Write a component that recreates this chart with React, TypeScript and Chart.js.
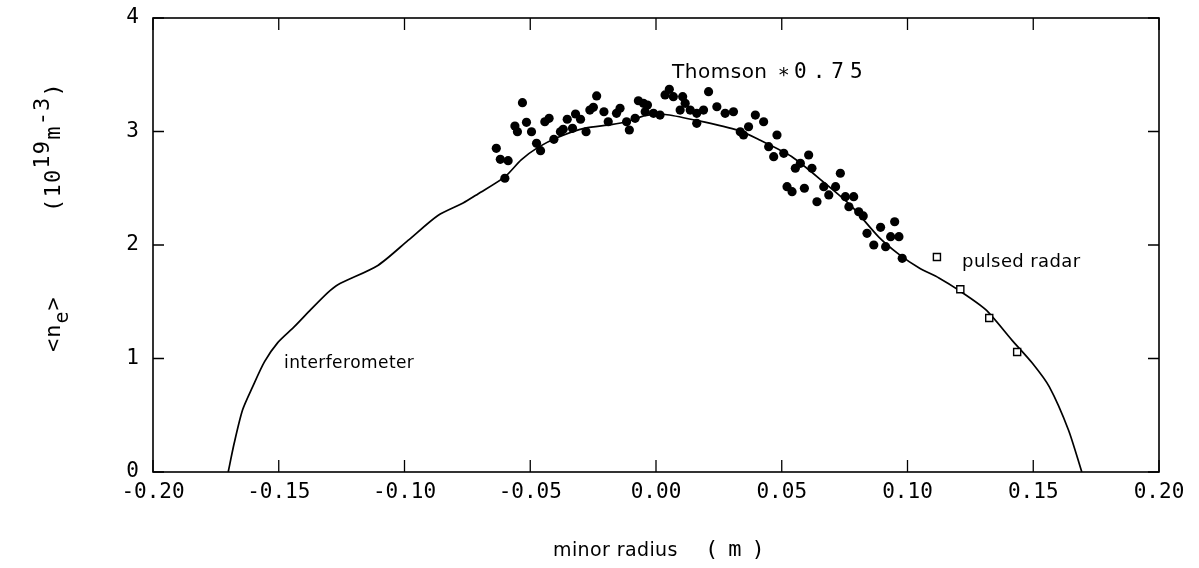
import React, { useEffect, useRef } from "react";
import { Chart, registerables } from "chart.js";

Chart.register(...registerables);

// Thomson scattering points (x: minor radius in m, y: <n_e> in 1e19 m^-3)
const thomsonX = [
  -0.0531, -0.0561, -0.0551, -0.0515, -0.0495, -0.0442, -0.0425, -0.0635, -0.0619, -0.0588,
  -0.0601, -0.0475, -0.0459, -0.0406, -0.038, -0.0369, -0.0353, -0.0332, -0.032, -0.03,
  -0.0278, -0.0263, -0.0249, -0.0236, -0.0207, -0.019, -0.0157, -0.0143, -0.0117, -0.0106,
  -0.0083, -0.007, -0.005, -0.0034, -0.0043, -0.001, 0.0016, 0.0053, 0.0036, 0.0069,
  0.0106, 0.0116, 0.0096, 0.0136, 0.0162, 0.0189, 0.0162, 0.0209, 0.0242, 0.0275,
  0.0308, 0.0395, 0.0428, 0.0368, 0.0335, 0.0348, 0.0481, 0.0448, 0.0468, 0.0508,
  0.0607, 0.0574, 0.0554, 0.062, 0.0521, 0.0541, 0.059, 0.064, 0.0733, 0.0667,
  0.0714, 0.0687, 0.0753, 0.0786, 0.0767, 0.0806, 0.0824, 0.0839, 0.0893, 0.0949,
  0.0933, 0.0966, 0.0866, 0.0913, 0.0979,
];
const thomsonY = [
  3.254, 3.048, 2.998, 3.081, 2.998, 3.086, 3.116, 2.852, 2.755, 2.743,
  2.588, 2.896, 2.831, 2.931, 2.998, 3.019, 3.108, 3.028, 3.154, 3.108,
  2.998, 3.189, 3.213, 3.313, 3.174, 3.086, 3.16, 3.204, 3.086, 3.013,
  3.116, 3.271, 3.248, 3.233, 3.174, 3.16, 3.145, 3.372, 3.322, 3.307,
  3.307, 3.248, 3.189, 3.189, 3.16, 3.189, 3.072, 3.351, 3.218, 3.16,
  3.174, 3.145, 3.086, 3.042, 2.998, 2.969, 2.969, 2.866, 2.778, 2.808,
  2.793, 2.72, 2.676, 2.676, 2.514, 2.47, 2.5, 2.381, 2.632, 2.514,
  2.514, 2.441, 2.426, 2.426, 2.337, 2.293, 2.256, 2.103, 2.156, 2.205,
  2.073, 2.073, 2.0, 1.985, 1.883,
];

// Pulsed radar points
const radarX = [0.1117, 0.121, 0.1325, 0.1436];
const radarY = [1.894, 1.61, 1.357, 1.057];

// Interferometer profile
const interfX = [
  -0.1701, -0.1677, -0.1644, -0.1604, -0.1557, -0.1504, -0.1438, -0.1373, -0.1305, -0.1265,
  -0.1106, -0.0986, -0.0867, -0.0767, -0.0708, -0.0601, -0.0536, -0.0469, -0.0389, -0.0282,
  -0.0178, -0.011, -0.0043, 0.0036, 0.0156, 0.0328, 0.0408, 0.0539, 0.0674, 0.0778,
  0.0886, 0.0965, 0.1045, 0.1125, 0.1205, 0.1311, 0.1416, 0.1496, 0.1564, 0.164, 0.1693,
];
const interfY = [
  0, 0.255, 0.546, 0.75, 0.97, 1.14, 1.28, 1.43, 1.58, 1.65,
  1.82, 2.04, 2.26, 2.37, 2.45, 2.6, 2.75, 2.86, 2.95, 3.03,
  3.06, 3.09, 3.14, 3.15, 3.1, 3.01, 2.93, 2.78, 2.54, 2.34,
  2.07, 1.92, 1.8, 1.71, 1.6, 1.43, 1.16, 0.96, 0.75, 0.37, 0,
];

// Axis ticks
const xTickValues = [-0.2, -0.15, -0.1, -0.05, 0, 0.05, 0.1, 0.15, 0.2];
const yTickValues = [0, 1, 2, 3, 4];

const MONO = '"DejaVu Sans Mono", monospace';
const SANS = '"DejaVu Sans", sans-serif';

type Run = { t: string; shift?: number; size?: number; font?: string; gap?: number; sp?: number };

function drawRuns(ctx: CanvasRenderingContext2D, runs: Run[], x: number, y: number, spacing: number) {
  let cx = x;
  for (const r of runs) {
    ctx.font = `${r.size ?? 22}px ${r.font ?? MONO}`;
    const sp = r.sp ?? spacing;
    for (const ch of r.t) {
      ctx.fillText(ch, cx, y - (r.shift ?? 0));
      cx += ctx.measureText(ch).width + sp;
    }
    cx += r.gap ?? 0;
  }
}

const framePlugin = {
  id: "frameAndText",
  afterDraw(chart: any) {
    const { ctx, chartArea } = chart;
    const { left, right, top, bottom } = chartArea;
    const xs = chart.scales.x;
    const ys = chart.scales.y;
    ctx.save();
    ctx.strokeStyle = "#000";
    ctx.lineWidth = 1.6;
    ctx.strokeRect(left, top, right - left, bottom - top);
    ctx.lineWidth = 1.3;
    ctx.beginPath();
    for (const v of xTickValues) {
      const px = xs.getPixelForValue(v);
      ctx.moveTo(px, bottom);
      ctx.lineTo(px, bottom - 12);
      ctx.moveTo(px, top);
      ctx.lineTo(px, top + 12);
    }
    for (const v of yTickValues) {
      const py = ys.getPixelForValue(v);
      ctx.moveTo(left, py);
      ctx.lineTo(left + 11, py);
      ctx.moveTo(right, py);
      ctx.lineTo(right - 11, py);
    }
    ctx.stroke();

    ctx.fillStyle = "#000";
    ctx.textBaseline = "alphabetic";
    ctx.textAlign = "left";

    // annotations
    const ax = (v: number) => xs.getPixelForValue(v);
    const ay = (v: number) => ys.getPixelForValue(v);
    drawRuns(
      ctx,
      [
        { t: "Thomson", font: SANS, size: 20, gap: 10, sp: 0.5 },
        { t: "∗", size: 20, gap: 4 },
        { t: "0.75", size: 21, sp: 6 },
      ],
      ax(0.0064),
      ay(3.47),
      0.5
    );
    drawRuns(ctx, [{ t: "pulsed radar", font: SANS, size: 18 }], ax(0.1217), ay(1.806), 0.4);
    drawRuns(ctx, [{ t: "interferometer", font: SANS, size: 17 }], ax(-0.1479), ay(0.915), 0.4);

    // x title
    drawRuns(ctx, [{ t: "minor radius", font: SANS, size: 19 }], 553, 556, 0.4);
    drawRuns(ctx, [{ t: "(m)", size: 22 }], 705, 556, 10);

    // y title (rotated)
    ctx.save();
    ctx.translate(60, 352);
    ctx.rotate(-Math.PI / 2);
    drawRuns(ctx, [{ t: "<n", size: 22 }, { t: "e", size: 20, shift: -8 }, { t: ">", size: 22 }], 0, 0, 1);
    drawRuns(
      ctx,
      [
        { t: "(10", size: 22 },
        { t: "19", size: 22, shift: 11 },
        { t: "m", size: 22 },
        { t: "-3", size: 22, shift: 11 },
        { t: ")", size: 22 },
      ],
      140,
      0,
      1.2
    );
    ctx.restore();
    ctx.restore();
  },
};

export default function App() {
  const ref = useRef<HTMLCanvasElement | null>(null);
  useEffect(() => {
    if (!ref.current) return;
    const chart = new Chart(ref.current, {
      type: "scatter",
      data: {
        datasets: [
          {
            label: "Thomson * 0.75",
            data: thomsonX.map((x, i) => ({ x, y: thomsonY[i] })),
            pointRadius: 4.6,
            pointBackgroundColor: "#000",
            pointBorderWidth: 0,
            showLine: false,
          },
          {
            label: "pulsed radar",
            data: radarX.map((x, i) => ({ x, y: radarY[i] })),
            pointStyle: "rect",
            pointRadius: 5,
            pointBackgroundColor: "#fff",
            pointBorderColor: "#000",
            pointBorderWidth: 1.4,
            showLine: false,
          },
          {
            label: "interferometer",
            data: interfX.map((x, i) => ({ x, y: interfY[i] })),
            showLine: true,
            borderColor: "#000",
            borderWidth: 1.7,
            pointRadius: 0,
            tension: 0.25,
            fill: false,
          },
        ],
      },
      options: {
        animation: false,
        responsive: false,
        devicePixelRatio: 1,
        layout: { padding: { top: 18, right: 40, left: 0, bottom: 0 } },
        plugins: { legend: { display: false }, tooltip: { enabled: false } },
        scales: {
          x: {
            type: "linear",
            min: -0.2,
            max: 0.2,
            afterFit: (s: any) => {
              s.height = 96;
            },
            afterBuildTicks: (s: any) => {
              s.ticks = xTickValues.map((v) => ({ value: v }));
            },
            ticks: {
              color: "#000",
              padding: 8,
              font: { family: "DejaVu Sans Mono", size: 21 },
              callback: (v: any) => (Math.abs(Number(v)) < 1e-9 ? 0 : Number(v)).toFixed(2),
              maxRotation: 0,
              autoSkip: false,
            },
            grid: { display: false, drawTicks: false },
            border: { display: false },
          },
          y: {
            type: "linear",
            min: 0,
            max: 4,
            afterFit: (s: any) => {
              s.width = 153;
              s.paddingTop = 0;
              s.paddingBottom = 0;
            },
            afterBuildTicks: (s: any) => {
              s.ticks = yTickValues.map((v) => ({ value: v }));
            },
            ticks: {
              color: "#000",
              padding: 14,
              font: { family: "DejaVu Sans Mono", size: 21 },
              callback: (v: any) => String(v),
            },
            grid: { display: false, drawTicks: false },
            border: { display: false },
          },
        },
      },
      plugins: [framePlugin],
    });
    return () => chart.destroy();
  }, []);
  return (
    <div style={{ position: "fixed", left: 0, top: 0, width: 1199, height: 568, background: "#fff" }}>
      <canvas ref={ref} width={1199} height={568} style={{ display: "block" }} />
    </div>
  );
}
